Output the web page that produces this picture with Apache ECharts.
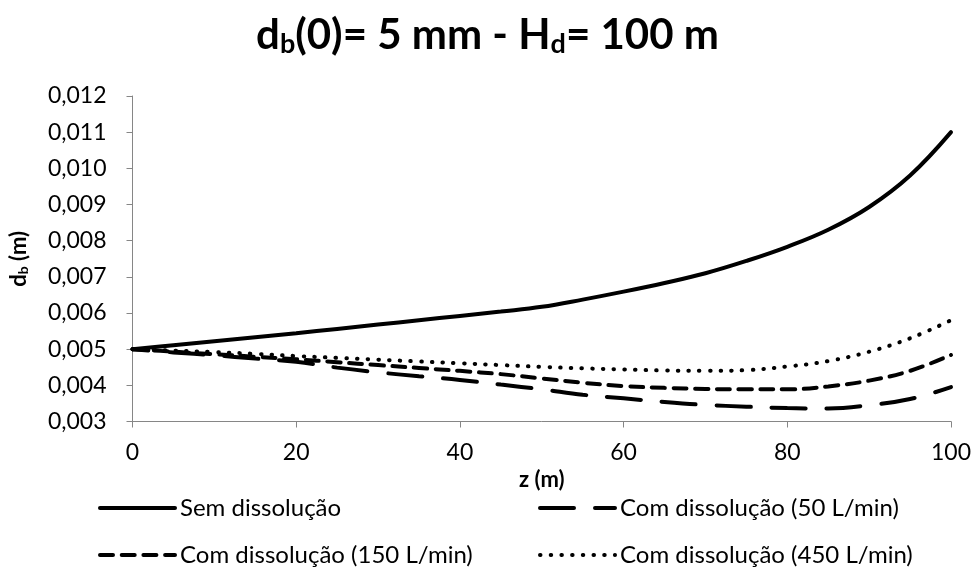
<!DOCTYPE html>
<html>
<head>
<meta charset="utf-8">
<script src="https://cdn.jsdelivr.net/npm/echarts@6/dist/echarts.min.js"></script>
<style>
html,body{margin:0;padding:0;background:#fff;}
#chart{width:975px;height:569px;}
</style>
</head>
<body>
<div id="chart"></div>
<script>
var zValues = [0,5,10,15,20,25,30,35,40,45,50,55,60,65,70,75,80,85,90,95,100];
var semDissolucao = [0.00500,0.00511,0.00522,0.00533,0.00544,0.00556,0.00568,0.00580,0.00592,0.00604,0.00617,0.00637,0.00659,0.00683,0.00710,0.00744,0.00783,0.00830,0.00893,0.00980,0.01100];
var com50 = [0.00500,0.00491,0.00483,0.00474,0.00465,0.00449,0.00436,0.00425,0.00415,0.00402,0.00389,0.00374,0.00364,0.00354,0.00346,0.00341,0.00337,0.00336,0.00345,0.00362,0.00395];
var com150 = [0.00500,0.00493,0.00486,0.00479,0.00472,0.00464,0.00456,0.00448,0.00440,0.00431,0.00419,0.00407,0.00398,0.00393,0.00390,0.00389,0.00389,0.00397,0.00413,0.00440,0.00484];
var com450 = [0.00500,0.00496,0.00492,0.00487,0.00481,0.00476,0.00471,0.00466,0.00461,0.00456,0.00451,0.00447,0.00444,0.00441,0.00440,0.00442,0.00452,0.00467,0.00493,0.00530,0.00580];
var seriesNames = ['Sem dissolução','Com dissolução (50 L/min)','Com dissolução (150 L/min)','Com dissolução (450 L/min)'];
var xTicks = [0,20,40,60,80,100];
var yTicks = [0.003,0.004,0.005,0.006,0.007,0.008,0.009,0.010,0.011,0.012];

function pairs(arr){ return zValues.map(function(z,i){ return [z, arr[i]]; }); }

var FONT = 'Lato';
var axisGrey = '#868686';
var chart = echarts.init(document.getElementById('chart'));

function mkLegend(name, left, top){
  return {
    data:[name], left:left, top:top, itemWidth:75, itemHeight:14, itemGap:0,
    itemStyle:{opacity:0},
    lineStyle:{width:4, cap:'round', dashOffset:0},
    textStyle:{fontFamily:FONT, fontSize:24, color:'#000'},
    padding:0
  };
}

var option = {
  backgroundColor:'#fff',
  animation:false,
  title:{
    text:'{m|d}{s|b}{m|(0)= 5 mm - H}{s|d}{m|= 100 m}',
    left:'center', top:8,
    textStyle:{
      rich:{
        m:{fontFamily:FONT, fontWeight:'bold', fontSize:42, color:'#000'},
        s:{fontFamily:FONT, fontWeight:'bold', fontSize:27, color:'#000', padding:[18,0,0,0]}
      }
    }
  },
  grid:{left:130, right:24, top:96, bottom:147.5, containLabel:false},
  legend:[
    mkLegend(seriesNames[0], 98, 496),
    mkLegend(seriesNames[1], 538, 496),
    mkLegend(seriesNames[2], 98, 543),
    mkLegend(seriesNames[3], 538, 543)
  ],
  xAxis:{
    type:'value', min:0, max:100, interval:20,
    name:'z (m)', nameLocation:'middle', nameGap:43,
    nameTextStyle:{fontFamily:FONT, fontWeight:'bold', fontSize:22, color:'#000'},
    axisLine:{show:true, lineStyle:{color:axisGrey, width:1}},
    axisTick:{show:true, length:6, lineStyle:{color:axisGrey}},
    splitLine:{show:false},
    axisLabel:{fontFamily:FONT, fontSize:23, color:'#000', margin:20,
      formatter:function(v){ return xTicks.indexOf(v) >= 0 ? String(v) : ''; }}
  },
  yAxis:{
    type:'value', min:0.003, max:0.012, interval:0.001,
    name:'{m|d}{s|b}{m| (m)}', nameLocation:'middle', nameGap:102, nameRotate:90,
    nameTextStyle:{rich:{
      m:{fontFamily:FONT, fontWeight:'bold', fontSize:22, color:'#000'},
      s:{fontFamily:FONT, fontWeight:'bold', fontSize:14, color:'#000', padding:[9,0,0,0]}
    }},
    axisLine:{show:true, lineStyle:{color:axisGrey, width:1}},
    axisTick:{show:true, length:6, lineStyle:{color:axisGrey}},
    splitLine:{show:false},
    axisLabel:{fontFamily:FONT, fontSize:23, color:'#000', margin:26,
      formatter:function(v){
        for (var i=0;i<yTicks.length;i++){ if (Math.abs(yTicks[i]-v) < 1e-9) return v.toFixed(3).replace('.', ','); }
        return '';
      }}
  },
  series:[
    {name:seriesNames[0], type:'line', data:pairs(semDissolucao), smooth:0.4, showSymbol:false, symbol:'none',
      lineStyle:{color:'#000', width:4, type:'solid', cap:'round'}, itemStyle:{color:'#000'}},
    {name:seriesNames[1], type:'line', data:pairs(com50), smooth:0.4, showSymbol:false, symbol:'none',
      lineStyle:{color:'#000', width:4, type:[34,21], dashOffset:18, cap:'round'}, itemStyle:{color:'#000'}},
    {name:seriesNames[2], type:'line', data:pairs(com150), smooth:0.4, showSymbol:false, symbol:'none',
      lineStyle:{color:'#000', width:4, type:[13,8.7], cap:'round'}, itemStyle:{color:'#000'}},
    {name:seriesNames[3], type:'line', data:pairs(com450), smooth:0.4, showSymbol:false, symbol:'none',
      lineStyle:{color:'#000', width:4, type:[0.5,10.2], cap:'round'}, itemStyle:{color:'#000'}}
  ]
};
chart.setOption(option);
</script>
</body>
</html>
